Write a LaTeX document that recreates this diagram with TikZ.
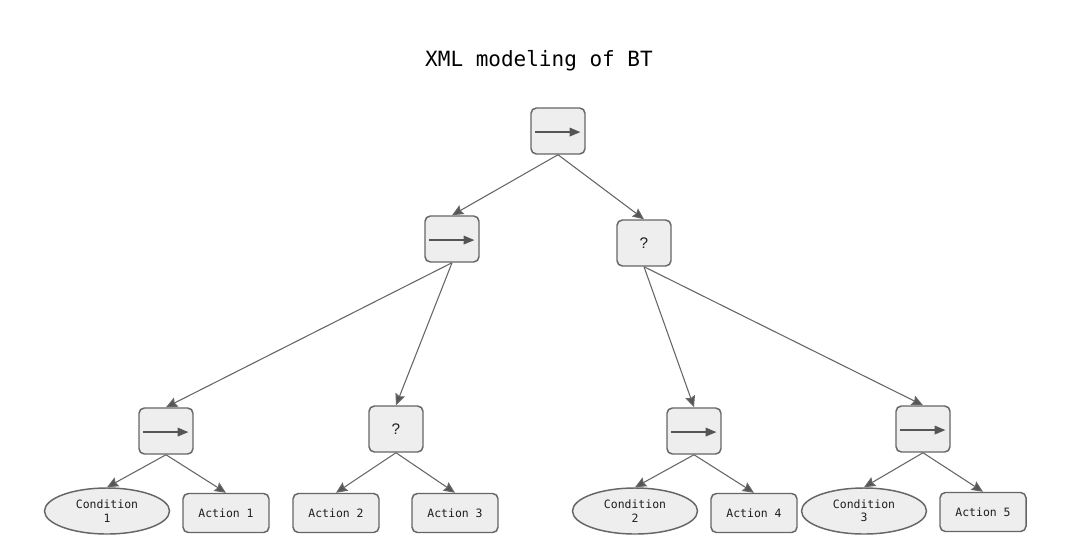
\documentclass[tikz,border=0pt]{standalone}
\usepackage{fontspec}
\setmainfont{DejaVu Sans Mono}
\newfontfamily\qfont{Liberation Sans}
\usetikzlibrary{arrows.meta,shapes.geometric}
\definecolor{edgegray}{HTML}{666666}
\definecolor{tipgray}{HTML}{555555}
\definecolor{nodefill}{HTML}{EEEEEE}
\definecolor{labelink}{HTML}{1E1E1E}
\tikzset{
  btnode/.style={draw=edgegray, fill=nodefill, line width=1.1pt, text=labelink,
    font=\fontsize{8.6pt}{10pt}\selectfont, inner sep=0pt, align=center},
  ctrl/.style={btnode, rounded corners=4pt, minimum width=40.5pt, minimum height=34.5pt},
  selbox/.style={ctrl, font=\qfont\fontsize{11.5pt}{13pt}\selectfont},
  seqbox/.style={ctrl, path picture={
      \draw[tipgray, line width=0.9pt, -{Triangle[length=8pt,width=6.5pt]}]
        ([xshift=3pt,yshift=-0.8pt]path picture bounding box.west) --
        ([xshift=-3.5pt,yshift=-0.8pt]path picture bounding box.east);}},
  actbox/.style={btnode, rounded corners=4pt, minimum width=64.5pt, minimum height=29.25pt},
  condell/.style={btnode, ellipse, minimum width=93.75pt, minimum height=34.5pt},
  link/.style={draw=edgegray, line width=0.8pt,
    -{Stealth[length=8.5pt,width=7.5pt,inset=1.2pt,fill=tipgray]}},
}
\begin{document}
\begin{tikzpicture}[x=0.75pt, y=-0.75pt]
  \useasboundingbox[fill=white] (0,0) rectangle (1073,554);

  % title
  \node (title) [font=\fontsize{15.75pt}{18pt}\selectfont] at (539,61) {XML modeling of BT};

  % control nodes
  \node[seqbox] (root) at (558,131) {};
  \node[seqbox] (seqA) at (452,239) {};
  \node[selbox] (selA) at (644,243) {?};
  \node[seqbox] (seqB) at (166,431) {};
  \node[selbox] (selB) at (396,429) {?};
  \node[seqbox] (seqC) at (694,431) {};
  \node[seqbox] (seqD) at (923,429) {};

  % leaves
  \node[condell] (cond1) at (107,511) {Condition\\1};
  \node[actbox]  (act1)  at (226,513) {Action 1};
  \node[actbox]  (act2)  at (336,513) {Action 2};
  \node[actbox]  (act3)  at (455,513) {Action 3};
  \node[condell] (cond2) at (635,511) {Condition\\2};
  \node[actbox]  (act4)  at (754,513) {Action 4};
  \node[condell] (cond3) at (864,511) {Condition\\3};
  \node[actbox]  (act5)  at (983,512) {Action 5};

  % connectors
  \draw[link] (root.south) -- (seqA.north);
  \draw[link] (root.south) -- (selA.north);
  \draw[link] (seqA.south) -- (seqB.north);
  \draw[link] (seqA.south) -- (selB.north);
  \draw[link] (selA.south) -- (seqC.north);
  \draw[link] (selA.south) -- (seqD.north);
  \draw[link] (seqB.south) -- (cond1.north);
  \draw[link] (seqB.south) -- (act1.north);
  \draw[link] (selB.south) -- (act2.north);
  \draw[link] (selB.south) -- (act3.north);
  \draw[link] (seqC.south) -- (cond2.north);
  \draw[link] (seqC.south) -- (act4.north);
  \draw[link] (seqD.south) -- (cond3.north);
  \draw[link] (seqD.south) -- (act5.north);
\end{tikzpicture}
\end{document}
